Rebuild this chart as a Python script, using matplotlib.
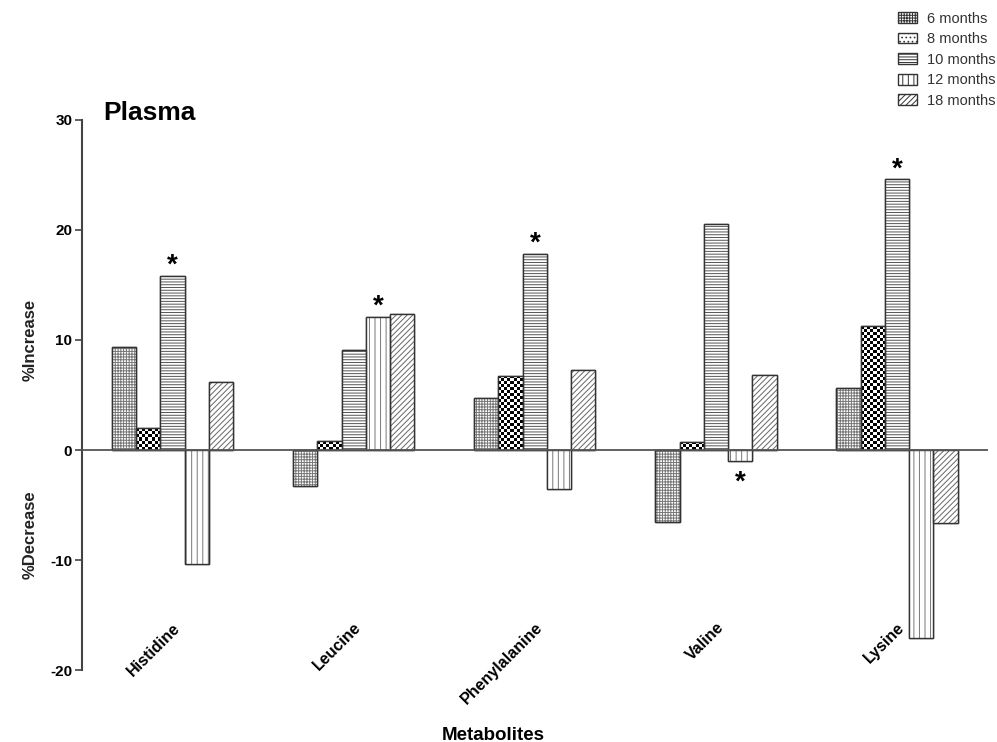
import numpy as np
import matplotlib
matplotlib.use('Agg')
from matplotlib import pyplot as plt
from matplotlib.patches import Patch

plt.rcParams['font.family'] = ['Liberation Sans', 'DejaVu Sans']
plt.rcParams['hatch.linewidth'] = 0.7

metabolites = ['Histidine', 'Leucine', 'Phenylalanine', 'Valine', 'Lysine']
periods = ['6 months', '8 months', '10 months', '12 months', '18 months']

m6 = [9.4, -3.3, 4.7, -6.5, 5.6]
m8 = [2.0, 0.8, 6.7, 0.7, 11.3]
m10 = [15.8, 9.1, 17.8, 20.5, 24.6]
m12 = [-10.4, 12.1, -3.5, -1.0, -17.1]
m18 = [6.2, 12.4, 7.3, 6.8, -6.6]
series = [m6, m8, m10, m12, m18]

# significance marks: (metabolite index, period index)
stars = [(0, 2), (1, 3), (2, 2), (3, 3), (4, 2)]

hatches = ['++++++', None, '------', '|||', '//////']
hatch_colors = ['#777777', '#111111', '#555555', '#777777', '#666666']

fig = plt.figure(figsize=(9.97, 7.42), dpi=100)
ax = fig.add_axes([0.0822, 0.0970, 0.9084, 0.7413])

x = np.arange(len(metabolites))
w = 0.134

ax.set_xlim(-0.5, 4.5)
ax.set_ylim(-20, 30)

# checkerboard texture for the 8 months bars
cell_x = 3.0 / 181.0
cell_y = 3.0 / 11.0

for i, vals in enumerate(series):
    pos = x + (i - 2) * w
    if hatches[i] is not None:
        ax.bar(pos, vals, w, color='white', edgecolor=hatch_colors[i],
               hatch=hatches[i], linewidth=0, zorder=2)
    outline = ax.bar(pos, vals, w, color='white', edgecolor='#333333',
                     linewidth=1.0, zorder=1 if hatches[i] is not None else 2)
    ax.bar(pos, vals, w, fill=False, edgecolor='#333333', linewidth=1.0, zorder=3)
    if hatches[i] is None:
        for rect, px, v in zip(outline.patches, pos, vals):
            nx = max(1, int(round(w / cell_x)))
            ny = max(1, int(round(abs(v) / cell_y)))
            checker = (np.add.outer(np.arange(ny), np.arange(nx)) % 2).astype(float)
            im = ax.imshow(checker, cmap='gray', vmin=0, vmax=1, interpolation='nearest',
                           extent=(px - w / 2, px - w / 2 + nx * cell_x,
                                   min(0, v), min(0, v) + ny * cell_y),
                           aspect='auto', zorder=2)
            im.set_clip_path(rect)

for gi, si in stars:
    v = series[si][gi]
    px = x[gi] + (si - 2) * w
    if v >= 0:
        ax.annotate('*', (px, v), xytext=(0, -2), textcoords='offset points',
                    ha='center', va='bottom', fontsize=20, fontweight='bold')
    else:
        ax.annotate('*', (px, v), xytext=(0, -6), textcoords='offset points',
                    ha='center', va='top', fontsize=20, fontweight='bold')

ax.axhline(0, color='#555555', linewidth=1.3, zorder=4)

ax.set_xlim(-0.5, 4.5)
ax.set_ylim(-20, 30)
ax.set_yticks([-20, -10, 0, 10, 20, 30])
ax.set_yticklabels(['-20', '-10', '0', '10', '20', '30'], fontweight='bold', fontsize=11)
ax.tick_params(axis='y', direction='out', length=5, width=1.2, color='#444444', pad=2)

ax.set_xticks(x)
ax.set_xticklabels(metabolites, fontweight='bold', fontsize=11.5, rotation=45,
                   ha='right', va='top', rotation_mode='anchor')
ax.tick_params(axis='x', length=0, pad=-36)

for s in ['top', 'right', 'bottom']:
    ax.spines[s].set_visible(False)
ax.spines['left'].set_linewidth(1.5)
ax.spines['left'].set_color('#444444')

ax.set_xlabel('Metabolites', fontweight='bold', fontsize=13.5)
ax.xaxis.set_label_coords((493 - 82) / 906, -0.103)

fig.text(0.030, 1 - 340 / 742, '%Increase', rotation=90, ha='center', va='center',
         fontweight='bold', fontsize=12, color='#222222')
fig.text(0.030, 1 - 535 / 742, '%Decrease', rotation=90, ha='center', va='center',
         fontweight='bold', fontsize=12, color='#222222')

fig.text(103 / 997, 1 - 113 / 742, 'Plasma', fontweight='bold', fontsize=19,
         ha='left', va='center')

legend_hatches = ['++++++', '....', '------', '|||', '//////']
handles = [Patch(facecolor='white', edgecolor='#333333', hatch=h) for h in legend_hatches]
fig.legend(handles, periods, loc='upper right', bbox_to_anchor=(1.012, 1.002),
           frameon=False, fontsize=10.5, handlelength=1.3, handleheight=0.75,
           labelspacing=0.45, handletextpad=0.7, labelcolor='#333333')

fig.savefig('out.png', dpi=100)
